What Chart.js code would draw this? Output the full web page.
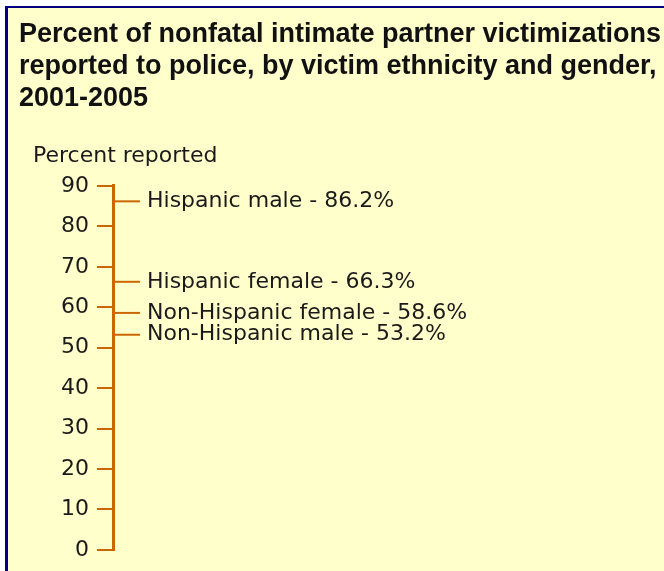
<!DOCTYPE html>
<html>
<head>
<meta charset="utf-8">
<script src="https://cdn.jsdelivr.net/npm/chart.js@4"></script>
<style>
    body { margin: 0; background: #ffffff; }
    #marco {
        position: absolute; left: 5px; top: 6px; width: 700px; height: 600px;
        background: #ffffcc; border-left: 3px solid #000080; border-top: 2px solid #000080;
    }
    #lienzo { position: absolute; left: 19px; top: 0px; }
</style>
</head>
<body>
<div id="marco"></div>
<canvas id="lienzo" width="645" height="571"></canvas>
<script>
// datos del grafico
const grupos = ['Hispanic male', 'Hispanic female', 'Non-Hispanic female', 'Non-Hispanic male'];
const porcentajes = [86.2, 66.3, 58.6, 53.2];
const marcasEje = [0, 10, 20, 30, 40, 50, 60, 70, 80, 90];

const naranja = '#cc6600';
const textoColor = '#1a1a1a';

// dibuja la linea corta y la etiqueta de cada grupo
const etiquetasPlugin = {
    id: 'etiquetas',
    afterDatasetsDraw(chart) {
        const ctx = chart.ctx;
        const meta = chart.getDatasetMeta(0);
        ctx.save();
        meta.data.forEach((punto, i) => {
            ctx.strokeStyle = naranja;
            ctx.lineWidth = 2;
            ctx.beginPath();
            ctx.moveTo(punto.x, punto.y);
            ctx.lineTo(punto.x + 27, punto.y);
            ctx.stroke();
            ctx.fillStyle = textoColor;
            ctx.font = '22px "DejaVu Sans"';
            ctx.textBaseline = 'middle';
            ctx.textAlign = 'left';
            ctx.fillText(grupos[i] + ' - ' + porcentajes[i].toFixed(1) + '%', punto.x + 34, punto.y);
        });
        // titulo del eje
        ctx.font = '22px "DejaVu Sans"';
        ctx.textBaseline = 'alphabetic';
        ctx.fillText('Percent reported', chart.chartArea.left - 80, chart.chartArea.top - 24);
        ctx.restore();
    }
};

const datos = porcentajes.map(v => ({ x: 0, y: v }));

new Chart(document.getElementById('lienzo').getContext('2d'), {
    type: 'scatter',
    data: {
        datasets: [{
            data: datos,
            pointRadius: 0,
            pointHoverRadius: 0
        }]
    },
    options: {
        responsive: false,
        animation: false,
        layout: { padding: { top: 0, bottom: 15, left: 0, right: 0 } },
        plugins: {
            legend: { display: false },
            tooltip: { enabled: false },
            title: {
                display: true,
                align: 'start',
                text: ['Percent of nonfatal intimate partner victimizations',
                       'reported to police, by victim ethnicity and gender,',
                       '2001-2005'],
                color: '#111111',
                font: { family: 'Liberation Sans', size: 27, weight: 'bold', lineHeight: 1.185 },
                padding: { top: 19, bottom: 71 }
            }
        },
        scales: {
            x: { type: 'linear', min: 0, max: 1, display: false },
            y: {
                min: 0,
                max: 90,
                afterFit(scale) { scale.width = 94; },
                afterBuildTicks(scale) { scale.ticks = marcasEje.map(v => ({ value: v })); },
                ticks: {
                    color: textoColor,
                    font: { family: 'DejaVu Sans', size: 22 },
                    padding: 8
                },
                grid: {
                    drawOnChartArea: false,
                    drawTicks: true,
                    tickLength: 16,
                    color: naranja,
                    lineWidth: 2
                },
                border: { display: true, color: naranja, width: 3 }
            }
        }
    },
    plugins: [etiquetasPlugin]
});
</script>
</body>
</html>
